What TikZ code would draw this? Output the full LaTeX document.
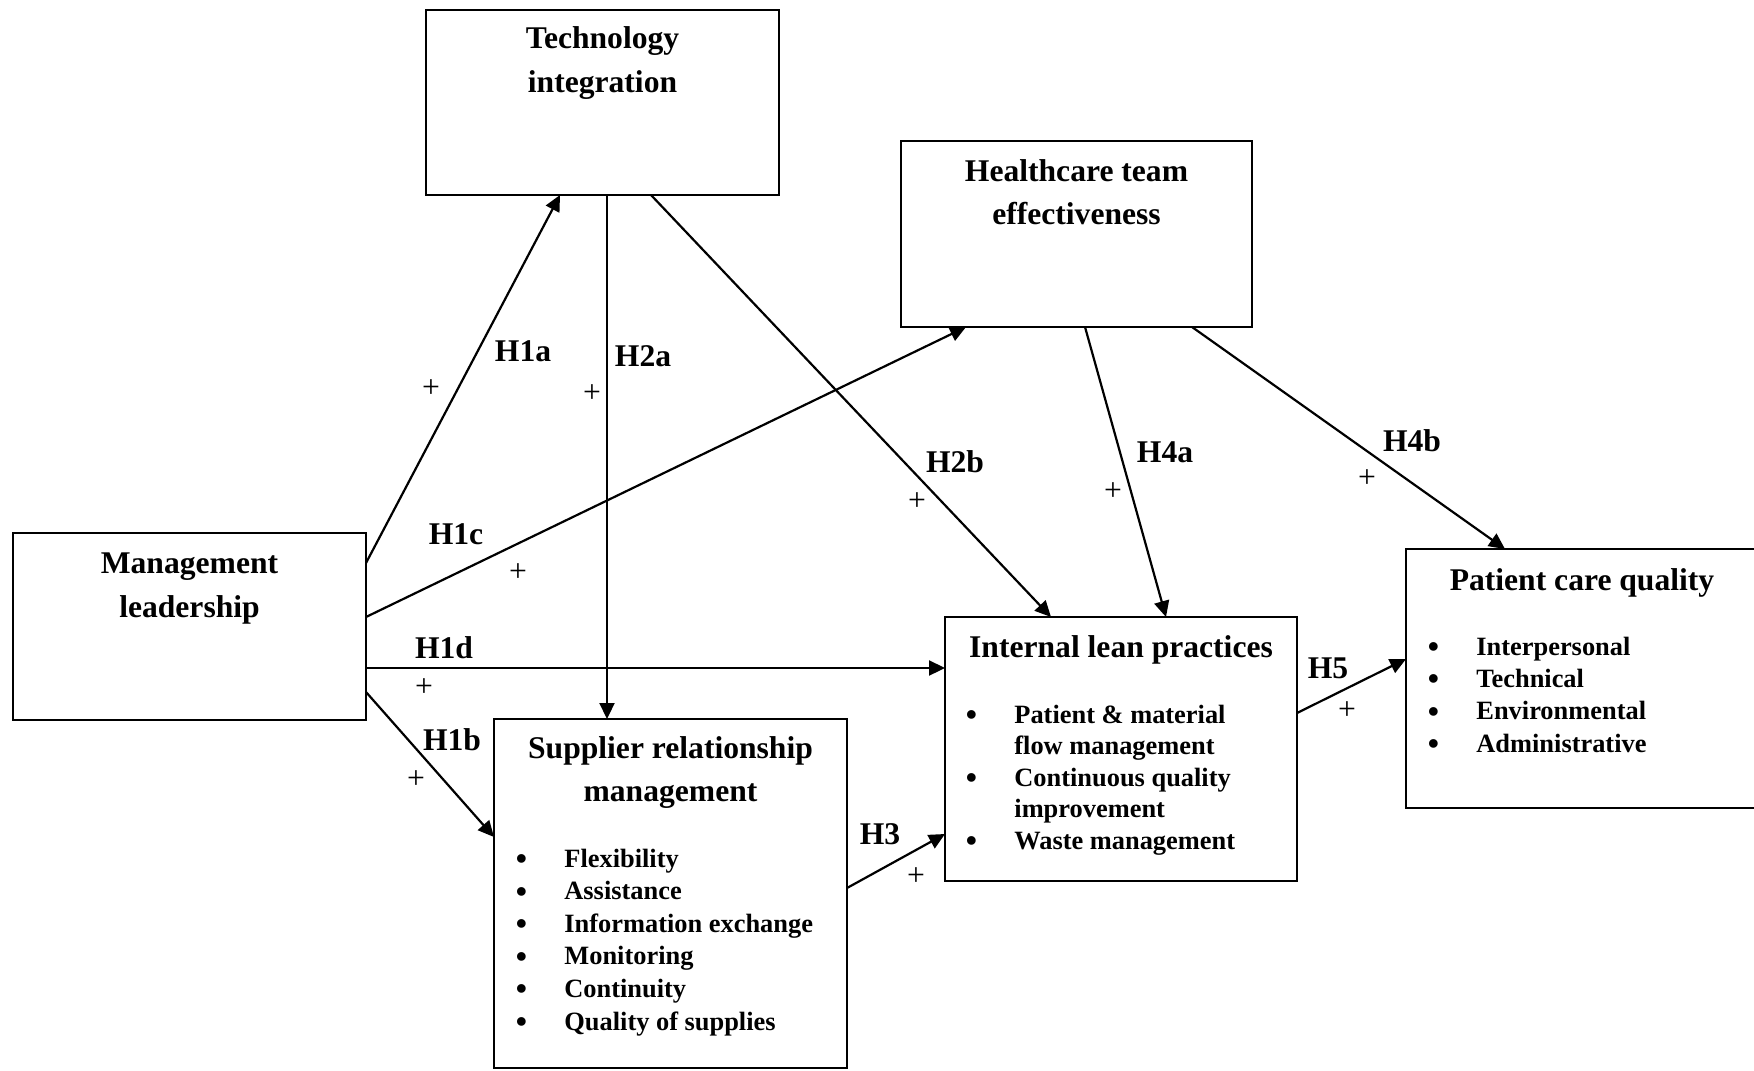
\documentclass[tikz,border=0pt]{standalone}
\usepackage{fontspec}
\setmainfont{Liberation Serif}
\usetikzlibrary{arrows.meta,calc}

\newcommand\boxtitlefont{\bfseries\fontsize{15.8pt}{20pt}\selectfont}
\newcommand\listfont{\bfseries\fontsize{13.2pt}{16pt}\selectfont}
\newcommand\plusfont{\fontsize{15.8pt}{20pt}\selectfont}
\newcommand\itembullet{\llap{\smash{\raisebox{-1.2pt}{\fontsize{16pt}{16pt}\selectfont\textbullet}}\hspace{18.7pt}}}

\begin{document}
\begin{tikzpicture}[x=0.5pt,y=-0.5pt,
  box/.style={draw,line width=1.1pt,inner sep=0pt,outer sep=0pt,anchor=north west},
  ttl/.style={font=\boxtitlefont,anchor=base,inner sep=0pt},
  itm/.style={font=\listfont,anchor=base west,inner sep=0pt},
  hyp/.style={font=\boxtitlefont,anchor=base,inner sep=0pt},
  sgn/.style={font=\plusfont,inner sep=0pt},
  link/.style={line width=1.1pt,-{Triangle[length=8pt,width=7.5pt]}}]

\fill[white] (0,0) rectangle (1754,1070);
\useasboundingbox (0,0) rectangle (1754,1070);
\clip (0,0) rectangle (1754,1070);

% constructs
\node[box,minimum width=176.5pt,minimum height=92.5pt] (tech) at (426,10) {};
\node[box,minimum width=175.5pt,minimum height=93pt]   (hc)   at (901,141) {};
\node[box,minimum width=176.5pt,minimum height=93.5pt] (mgmt) at (13,533) {};
\node[box,minimum width=176pt,minimum height=132pt]    (lean) at (945,617) {};
\node[box,minimum width=176.5pt,minimum height=174.5pt] (supp) at (494,719) {};
\node[box,minimum width=176pt,minimum height=129.5pt]  (pcq)  at (1406,549) {};

% box titles
\node[ttl] (tech-t1) at ($(tech.north)+(0,39)$) {Technology};
\node[ttl] (tech-t2) at ($(tech.north)+(0,82)$) {integration};
\node[ttl] (hc-t1)   at ($(hc.north)+(0,40)$) {Healthcare team};
\node[ttl] (hc-t2)   at ($(hc.north)+(0,83)$) {effectiveness};
\node[ttl] (mgmt-t1) at ($(mgmt.north)+(0,40)$) {Management};
\node[ttl] (mgmt-t2) at ($(mgmt.north)+(0,84)$) {leadership};
\node[ttl] (supp-t1) at ($(supp.north)+(0,39)$) {Supplier relationship};
\node[ttl] (supp-t2) at ($(supp.north)+(0,82)$) {management};
\node[ttl] (lean-t1) at ($(lean.north)+(0,40)$) {Internal lean practices};
\node[ttl] (pcq-t1)  at ($(pcq.north)+(0,41)$) {Patient care quality};

% bullet lists
\foreach \t [count=\i] in {Flexibility,Assistance,Information exchange,Monitoring,Continuity,Quality of supplies}
  \node[itm] (supp-i\i) at ($(supp.north west)+(70,{148+32.6*(\i-1)})$) {\itembullet\t};

\node[itm] (lean-i1) at ($(lean.north west)+(69,106)$)   {\itembullet Patient \& material};
\node[itm] (lean-i2) at ($(lean.north west)+(69,137.6)$) {flow management};
\node[itm] (lean-i3) at ($(lean.north west)+(69,169.2)$) {\itembullet Continuous quality};
\node[itm] (lean-i4) at ($(lean.north west)+(69,200.8)$) {improvement};
\node[itm] (lean-i5) at ($(lean.north west)+(69,232.4)$) {\itembullet Waste management};

\foreach \t [count=\i] in {Interpersonal,Technical,Environmental,Administrative}
  \node[itm] (pcq-i\i) at ($(pcq.north west)+(70,{106+32.4*(\i-1)})$) {\itembullet\t};

% hypothesised paths
\draw[link] ($(mgmt.north east)+(0,30)$)  -- ($(tech.south west)+(134,0)$);
\draw[link] ($(tech.south west)+(181,0)$) -- ($(supp.north west)+(113,0)$);
\draw[link] ($(tech.south west)+(225,0)$) -- ($(lean.north west)+(106,0)$);
\draw[link] ($(mgmt.north east)+(0,84)$)  -- ($(hc.south west)+(65,0)$);
\draw[link] ($(hc.south west)+(184,0)$)   -- ($(lean.north west)+(221,0)$);
\draw[link] ($(hc.south west)+(291,0)$)   -- ($(pcq.north west)+(99,0)$);
\draw[link] ($(mgmt.north east)+(0,135)$) -- ($(lean.north west)+(0,51)$);
\draw[link] ($(mgmt.north east)+(0,159)$) -- ($(supp.north west)+(0,118)$);
\draw[link] ($(supp.north east)+(0,169)$) -- ($(lean.north west)+(0,217)$);
\draw[link] ($(lean.north east)+(0,96)$)  -- ($(pcq.north west)+(0,110)$);

% hypothesis labels
\node[hyp] (l-h1a) at (523,361) {H1a};
\node[hyp] (l-h2a) at (643,366) {H2a};
\node[hyp] (l-h2b) at (955,472) {H2b};
\node[hyp] (l-h4a) at (1165,462) {H4a};
\node[hyp] (l-h4b) at (1412,451) {H4b};
\node[hyp] (l-h1c) at (456,544) {H1c};
\node[hyp] (l-h1d) at (444,658) {H1d};
\node[hyp] (l-h1b) at (452,750) {H1b};
\node[hyp] (l-h3)  at (880,844) {H3};
\node[hyp] (l-h5)  at (1328,678) {H5};

% signs
\node[sgn] (s-h1a) at (431,389) {+};
\node[sgn] (s-h2a) at (592,394) {+};
\node[sgn] (s-h2b) at (917,502) {+};
\node[sgn] (s-h4a) at (1113,492) {+};
\node[sgn] (s-h4b) at (1367,479) {+};
\node[sgn] (s-h1c) at (518,573) {+};
\node[sgn] (s-h1d) at (424,688) {+};
\node[sgn] (s-h1b) at (416,780) {+};
\node[sgn] (s-h3)  at (916,877) {+};
\node[sgn] (s-h5)  at (1347,711) {+};
\end{tikzpicture}
\end{document}
